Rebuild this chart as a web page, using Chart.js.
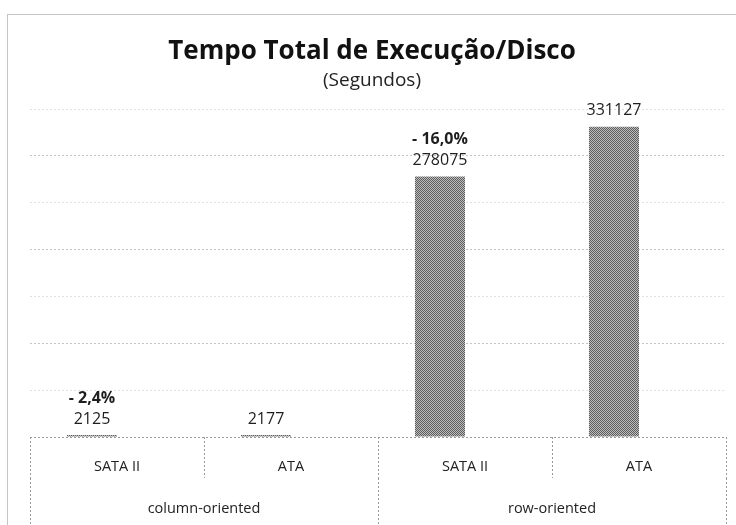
<!DOCTYPE html>
<html>
<head>
<meta charset="utf-8">
<script src="https://cdn.jsdelivr.net/npm/chart.js@4.4.0/dist/chart.umd.min.js"></script>
<style>
  html, body { margin: 0; padding: 0; background: #fff; }
  #wrap { width: 736px; height: 525px; }
</style>
</head>
<body>
<div id="wrap"><canvas id="chart"></canvas></div>
<script>
const diskLabels = ['SATA II', 'ATA', 'SATA II', 'ATA'];
const groupLabels = ['column-oriented', 'row-oriented'];
const totalSeconds = [2125, 2177, 278075, 331127];
const diffLabels = ['- 2,4%', '', '- 16,0%', ''];
const emptySeries = [null, null, null, null];
const yMax = 350000;
const yStep = 50000;

// halftone look of the scanned bars
function makeHatch() {
    const c = document.createElement('canvas');
    c.width = 2;
    c.height = 2;
    const g = c.getContext('2d');
    g.fillStyle = '#bcbcbc';
    g.fillRect(0, 0, 2, 2);
    g.fillStyle = '#5e5e5e';
    g.fillRect(0, 0, 1, 1);
    g.fillRect(1, 1, 1, 1);
    return g.createPattern(c, 'repeat');
}

const frame = {
    id: 'frame',
    beforeDraw(chart) {
        const ctx = chart.ctx;
        ctx.save();
        ctx.strokeStyle = '#8a8a8a';
        ctx.lineWidth = 1;
        ctx.setLineDash([1, 1]);
        ctx.strokeRect(7.5, 14.5, 800, 600);
        ctx.restore();
    }
};

const barLabels = {
    id: 'barLabels',
    afterDatasetsDraw(chart) {
        const ctx = chart.ctx;
        const meta = chart.getDatasetMeta(0);
        ctx.save();
        ctx.textAlign = 'center';
        ctx.textBaseline = 'middle';
        ctx.fillStyle = '#1e1e1e';
        meta.data.forEach((bar, i) => {
            const y = bar.y - 16;
            ctx.font = '16px "Open Sans"';
            ctx.fillText(String(totalSeconds[i]), bar.x, y);
            if (diffLabels[i]) {
                ctx.font = 'bold 16px "Open Sans"';
                ctx.fillText(diffLabels[i], bar.x, y - 21);
            }
        });
        ctx.restore();
    }
};

Chart.defaults.font.family = '"Open Sans", sans-serif';
Chart.defaults.color = '#222';

new Chart(document.getElementById('chart'), {
    type: 'bar',
    data: {
        labels: diskLabels,
        datasets: [
            {
                data: totalSeconds,
                backgroundColor: makeHatch(),
                borderWidth: 0,
                categoryPercentage: 0.575,
                barPercentage: 1
            },
            {
                data: emptySeries,
                backgroundColor: '#999',
                categoryPercentage: 0.575,
                barPercentage: 1
            }
        ]
    },
    options: {
        responsive: true,
        maintainAspectRatio: false,
        animation: false,
        layout: { padding: { top: 15, left: 18, right: 10, bottom: 0 } },
        plugins: {
            legend: { display: false },
            tooltip: { enabled: false },
            title: {
                display: true,
                text: 'Tempo Total de Execução/Disco',
                color: '#111',
                font: { size: 26, weight: 'bold' },
                padding: { top: 21, bottom: 0 }
            },
            subtitle: {
                display: true,
                text: '(Segundos)',
                color: '#222',
                font: { size: 19 },
                padding: { top: 2, bottom: 17 }
            }
        },
        scales: {
            x: {
                position: 'bottom',
                grid: {
                    offset: true,
                    drawOnChartArea: false,
                    tickLength: 41,
                    tickColor: '#9a9a9a',
                    tickBorderDash: [2, 2]
                },
                border: { display: false },
                ticks: { padding: -20, color: '#222', font: { size: 14.5 } },
                afterFit: s => { s.height = 41; }
            },
            x2: {
                type: 'category',
                labels: groupLabels,
                position: 'bottom',
                offset: true,
                grid: {
                    offset: true,
                    drawOnChartArea: false,
                    tickLength: 47,
                    tickColor: '#9a9a9a',
                    tickBorderDash: [2, 2]
                },
                border: { display: false },
                ticks: { padding: -25, color: '#222', font: { size: 14.5 } },
                afterFit: s => { s.height = 47; }
            },
            y: {
                min: 0,
                max: yMax,
                ticks: { stepSize: yStep, display: false },
                grid: {
                    drawTicks: false,
                    color: c => (c.index === 0 ? '#9a9a9a' : c.index % 2 === 0 ? '#c4c4c4' : '#e0e0e0')
                },
                border: { display: false, dash: [2, 2] },
                afterFit: s => { s.width = 12; }
            }
        }
    },
    plugins: [frame, barLabels]
});
</script>
</body>
</html>
